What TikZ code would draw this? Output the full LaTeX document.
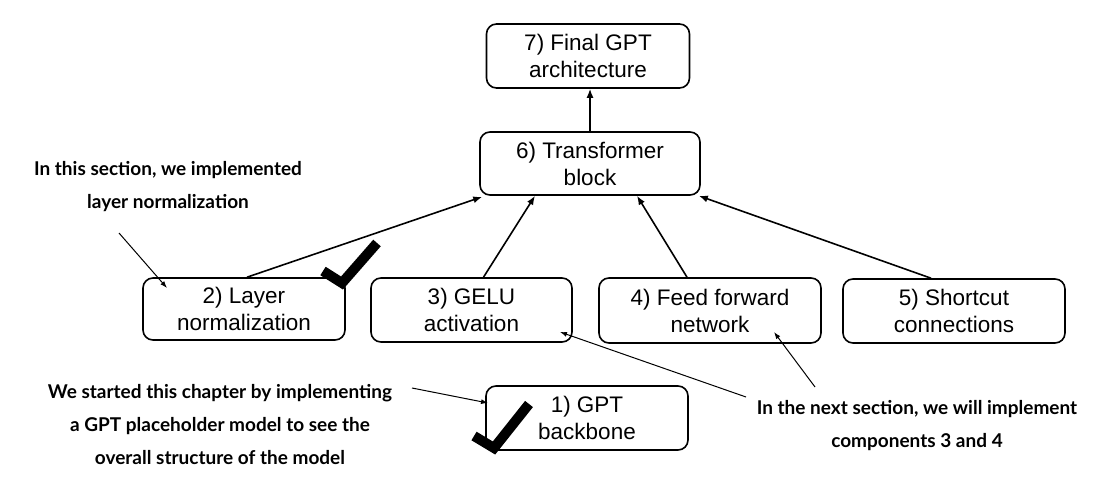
\documentclass[tikz,border=0pt]{standalone}
\usepackage{fontspec}
\setmainfont{Liberation Sans}
\newfontfamily\notefont{Lato}
\usetikzlibrary{arrows.meta}
\begin{document}
\begin{tikzpicture}[x=1pt,y=-1pt,
  stage/.style={draw, line width=1.6pt, rounded corners=10pt, align=center,
    inner sep=0pt, font=\fontsize{22.5}{27}\selectfont},
  note/.style={align=center, inner sep=0pt, font=\notefont\bfseries\fontsize{19}{33}\selectfont},
  flow/.style={line width=1.6pt, -{Latex[length=9pt,width=7pt]}},
  pointer/.style={line width=1pt, -{Latex[length=7pt,width=5pt]}},
  tick/.style={line width=10pt, line join=miter, line cap=butt}]
\useasboundingbox (0,0) rectangle (1119,492);

% component boxes
\node[stage, minimum width=203pt, minimum height=64pt] (b7) at (588,56) {7) Final GPT\\architecture};
\node[stage, minimum width=220pt, minimum height=63pt] (b6) at (590,163.5) {6) Transformer\\block};
\node[stage, minimum width=202pt, minimum height=62pt] (b2) at (244,309) {2) Layer\\normalization};
\node[stage, minimum width=201pt, minimum height=64pt] (b3) at (471.5,310) {3) GELU\\activation};
\node[stage, minimum width=222pt, minimum height=65pt] (b4) at (710,310.5) {4) Feed forward\\network};
\node[stage, minimum width=222pt, minimum height=64pt] (b5) at (954,311) {5) Shortcut\\connections};
\node[stage, minimum width=202pt, minimum height=64pt] (b1) at (587,418) {1) GPT\\backbone};

% data flow into the transformer block and the final model
\draw[flow] ([xshift=3pt]b2.north) -- ([xshift=3pt,yshift=-1pt]b6.south west);
\draw[flow] ([xshift=12pt]b3.north) -- ([xshift=-55pt]b6.south);
\draw[flow] ([xshift=-23pt]b4.north) -- ([xshift=47pt]b6.south);
\draw[flow] ([xshift=-23pt]b5.north) -- ([xshift=-2pt]b6.south east);
\draw[flow] (b6.north) -- (b6.north |- b7.south);

% annotations
\node[note] (n1) at (168,187) {In this section, we implemented\\layer normalization};
\node[note] (n2) at (220,425) {We started this chapter by implementing\\a GPT placeholder model to see the\\overall structure of the model};
\node[note] (n3) at (917,426) {In the next section, we will implement\\components 3 and 4};

\coordinate (n1s) at (119,233);
\coordinate (n1e) at (167,288);
\coordinate (n2s) at (412,388);
\coordinate (n2e) at (488,403);
\coordinate (n3s) at (746,397);
\coordinate (n3e) at (560,332);
\coordinate (n4s) at (815,387);
\coordinate (n4e) at (774,332);
\draw[pointer] (n1s) -- (n1e);
\draw[pointer] (n2s) -- (n2e);
\draw[pointer] (n3s) -- (n3e);
\draw[pointer] (n4s) -- (n4e);

% check marks for finished components
\draw[tick] (323,271) -- (342,283) -- (377,243);
\draw[tick] (474,436) -- (494,448) -- (529,404);
\end{tikzpicture}
\end{document}
